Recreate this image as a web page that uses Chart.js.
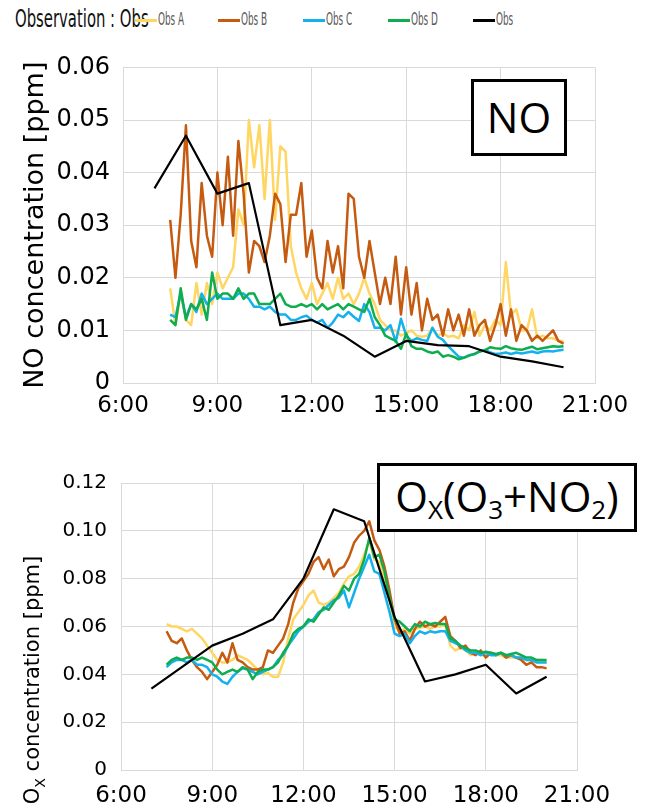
<!DOCTYPE html>
<html>
<head>
<meta charset="utf-8">
<script src="https://cdn.jsdelivr.net/npm/chart.js@4.4.1/dist/chart.umd.min.js"></script>
<style>
  body { margin: 0; background: #fff; }
  #page { position: relative; width: 651px; height: 809px; overflow: hidden; }
  #legend { position: absolute; left: 0; top: 0; width: 651px; height: 40px; }
  #legend .head { position: absolute; left: 15px; top: 4px; font: 25px "DejaVu Sans Condensed", "DejaVu Sans", sans-serif; color: #111;
    transform: scaleX(0.66); transform-origin: left center; white-space: nowrap; }
  #legend .item { position: absolute; top: 9px; white-space: nowrap; }
  #legend .item i { display: inline-block; width: 22px; height: 3.5px; vertical-align: middle; position: relative; top: -1px; }
  #legend .item b { display: inline-block; font: normal 17px "DejaVu Sans Condensed", "DejaVu Sans", sans-serif; color: #595959;
    transform: scaleX(0.58); transform-origin: left center; margin-left: 1px; }
  .box { position: absolute; border: 3px solid #000; background: #fff; font-family: "Open Sans", sans-serif; color: #000; text-align: center; box-sizing: border-box; }
  .box sub { font-size: 0.62em; vertical-align: -0.28em; }
  #noWrap { position: absolute; left: 0; top: 40px; width: 651px; height: 380px; }
  #oxWrap { position: absolute; left: 0; top: 440px; width: 651px; height: 369px; }
</style>
</head>
<body>
<div id="page">
  <div id="legend"><span class="head">Observation : Obs</span></div>
  <div id="noWrap"><canvas id="noChart"></canvas></div>
  <div id="oxWrap"><canvas id="oxChart"></canvas></div>
  <div class="box" style="left:471px; top:79px; width:96px; height:77px; font-size:42px; line-height:70px;">NO</div>
  <div class="box" style="left:377px; top:463px; width:260px; height:69px; font-size:42px; line-height:60px;">O<sub>X</sub>(O<sub>3</sub>+NO<sub>2</sub>)</div>
</div>
<script>
// sampling times of the four sensors (10 min) and of the reference station (hourly)
const sensorTimes = [
  '7:30','7:40','7:50','8:00','8:10','8:20','8:30','8:40','8:50','9:00','9:10','9:20',
  '9:30','9:40','9:50','10:00','10:10','10:20','10:30','10:40','10:50','11:00','11:10','11:20',
  '11:30','11:40','11:50','12:00','12:10','12:20','12:30','12:40','12:50','13:00','13:10','13:20',
  '13:30','13:40','13:50','14:00','14:10','14:20','14:30','14:40','14:50','15:00','15:10','15:20',
  '15:30','15:40','15:50','16:00','16:10','16:20','16:30','16:40','16:50','17:00','17:10','17:20',
  '17:30','17:40','17:50','18:00','18:10','18:20','18:30','18:40','18:50','19:00','19:10','19:20',
  '19:30','19:40','19:50','20:00'];
const obsTimes = ['7:00','8:00','9:00','10:00','11:00','12:00','13:00','14:00','15:00','16:00','17:00','18:00','19:00','20:00'];

const seriesNames = ['Obs A', 'Obs B', 'Obs C', 'Obs D', 'Obs'];
const seriesColors = ['#FFD661', '#C55A11', '#14B1EE', '#10AD4E', '#000000'];

// NO [ppm]
const noObsA = [
  .018,.011,.017,.012,.011,.019,.013,.019,.015,.021,.018,.020,
  .022,.033,.030,.050,.041,.049,.035,.050,.031,.045,.044,.026,
  .021,.018,.016,.019,.015,.017,.019,.016,.020,.016,.017,.015,
  .017,.020,.017,.015,.012,.011,.010,.010,.009,.0095,.010,.009,
  .0088,.009,.0105,.009,.0095,.0088,.009,.0085,.011,.010,.0135,.009,
  .011,.010,.012,.011,.023,.013,.014,.010,.010,.014,.0085,.009,
  .0085,.0085,.008,.008];
const noObsB = [
  .031,.020,.032,.049,.027,.022,.038,.028,.024,.040,.030,.043,
  .028,.046,.036,.021,.027,.026,.023,.028,.036,.034,.023,.032,
  .032,.038,.024,.029,.020,.018,.027,.021,.026,.018,.036,.035,
  .024,.020,.027,.021,.015,.020,.015,.024,.013,.022,.013,.019,
  .010,.016,.012,.013,.009,.014,.010,.013,.009,.014,.009,.011,
  .012,.008,.011,.015,.009,.014,.008,.011,.010,.008,.009,.008,
  .009,.010,.008,.0075];
const noObsC = [
  .013,.0125,.017,.0125,.015,.0135,.017,.015,.016,.017,.016,.016,
  .016,.017,.017,.016,.0145,.0145,.014,.0145,.0135,.013,.013,.012,
  .012,.0125,.0128,.012,.0115,.012,.0105,.0115,.013,.0125,.0135,.0126,
  .0118,.015,.0135,.0105,.0105,.010,.011,.0078,.0122,.009,.008,.0085,
  .0082,.008,.0105,.0088,.0082,.007,.006,.005,.0048,.0053,.0055,.006,
  .0063,.0058,.0055,.0056,.0058,.0055,.0058,.0056,.0058,.006,.0057,.006,
  .0061,.006,.0062,.0063];
const noObsD = [
  .012,.011,.018,.012,.015,.014,.016,.012,.021,.016,.017,.017,
  .016,.018,.016,.017,.017,.015,.015,.015,.016,.017,.015,.0145,
  .0145,.015,.0145,.015,.014,.015,.014,.0145,.015,.014,.015,.0145,
  .014,.0135,.016,.0125,.011,.009,.0085,.008,.0065,.0094,.007,.0065,
  .0065,.006,.0057,.006,.005,.0053,.005,.0045,.0048,.0052,.0055,.006,
  .0062,.0068,.0066,.0065,.007,.0066,.0064,.0063,.0066,.0069,.0064,.0066,
  .0068,.007,.0069,.007];
const noObs = [.037,.047,.036,.038,.011,.012,.009,.005,.008,.0072,.007,.005,.0041,.003];

// Ox [ppm]
const oxObsA = [
  .061,.060,.060,.059,.058,.059,.057,.055,.052,.049,.046,.045,
  .045,.046,.048,.047,.046,.044,.042,.040,.0405,.039,.039,.045,
  .055,.063,.066,.069,.073,.075,.070,.069,.070,.072,.074,.078,
  .081,.082,.085,.090,.096,.088,.087,.080,.072,.060,.058,.059,
  .057,.059,.0595,.060,.059,.060,.060,.061,.052,.050,.051,.050,
  .048,.049,.048,.048,.049,.048,.048,.047,.047,.047,.047,.046,
  .046,.046,.046,.045];
const oxObsB = [
  .058,.054,.053,.055,.050,.046,.043,.041,.038,.041,.044,.049,
  .045,.053,.046,.045,.043,.042,.042,.043,.050,.049,.052,.055,
  .061,.070,.076,.079,.082,.087,.089,.084,.088,.081,.084,.085,
  .089,.095,.098,.100,.104,.096,.092,.085,.075,.063,.057,.058,
  .054,.059,.062,.060,.061,.060,.062,.064,.056,.054,.051,.052,
  .049,.048,.050,.047,.049,.048,.049,.047,.048,.047,.046,.044,
  .045,.043,.043,.0425];
const oxObsC = [
  .043,.045,.046,.046,.045,.046,.044,.044,.043,.040,.039,.037,
  .036,.039,.041,.0425,.042,.041,.040,.041,.042,.043,.046,.048,
  .052,.055,.058,.060,.062,.063,.066,.067,.069,.071,.072,.075,
  .068,.074,.080,.085,.090,.083,.082,.074,.066,.057,.056,.057,
  .053,.056,.058,.057,.058,.0575,.058,.058,.054,.053,.052,.050,
  .049,.049,.048,.049,.048,.048,.049,.048,.048,.047,.047,.046,
  .046,.045,.045,.045];
const oxObsD = [
  .044,.046,.047,.046,.047,.047,.046,.047,.046,.045,.042,.040,
  .041,.042,.041,.043,.042,.038,.041,.042,.042,.043,.045,.049,
  .052,.057,.059,.060,.063,.062,.065,.068,.067,.070,.073,.077,
  .075,.080,.082,.088,.097,.089,.090,.083,.072,.063,.062,.060,
  .058,.061,.060,.062,.061,.0615,.061,.061,.055,.054,.052,.051,
  .050,.050,.049,.0495,.049,.0485,.049,.048,.0485,.049,.048,.047,
  .047,.046,.046,.046];
const oxObs = [.034,.043,.052,.057,.063,.080,.109,.104,.064,.037,.040,.044,.032,.039];

function toHours(s) {
  var p = s.split(':');
  return +p[0] + (+p[1]) / 60;
}
function pts(times, vals) {
  return vals.map(function (v, i) { return { x: toHours(times[i]), y: v }; });
}

// html legend
var legendPos = [135, 218, 303, 388, 473];
var lg = document.getElementById('legend');
for (var i = 0; i < seriesNames.length; i++) {
  var it = document.createElement('span');
  it.className = 'item';
  it.style.left = legendPos[i] + 'px';
  it.innerHTML = '<i style="background:' + seriesColors[i] + '"></i><b>' + seriesNames[i] + '</b>';
  lg.appendChild(it);
}

function makeSets(a, b, c, d, obs) {
  var sets = [a, b, c, d];
  var out = sets.map(function (s, i) {
    return {
      label: seriesNames[i], data: pts(sensorTimes, s),
      borderColor: seriesColors[i], borderWidth: 2.5, order: 4 - i
    };
  });
  out.push({ label: seriesNames[4], data: pts(obsTimes, obs), borderColor: seriesColors[4], borderWidth: 2.2, order: 0 });
  return out;
}

const gridColor = '#D9D9D9';
const tickFont = 'DejaVu Sans';

function baseOptions(o) {
  return {
    responsive: true,
    maintainAspectRatio: false,
    animation: false,
    devicePixelRatio: 1,
    layout: { padding: o.padding },
    elements: { point: { radius: 0 }, line: { tension: 0, borderJoinStyle: 'round', fill: false } },
    plugins: { legend: { display: false }, tooltip: { enabled: false } },
    scales: {
      x: {
        type: 'linear', min: 6, max: 21,
        ticks: { stepSize: 3, color: '#000', font: { family: tickFont, size: o.xFont }, padding: o.xPad, maxRotation: 0,
          callback: function (v) { return v + ':00'; } },
        grid: { color: gridColor, drawTicks: false },
        border: { color: gridColor },
        afterFit: function (s) { s.height = o.xHeight; }
      },
      y: {
        min: 0, max: o.yMax,
        ticks: { stepSize: o.yStep, color: '#000', font: { family: tickFont, size: o.yFont }, padding: o.yPad,
          callback: function (v) { return v === 0 ? '0' : v.toFixed(2); } },
        grid: { color: gridColor, drawTicks: false },
        border: { color: gridColor },
        title: o.yTitle,
        afterFit: function (s) { s.width = o.yWidth; }
      }
    }
  };
}

new Chart(document.getElementById('noChart'), {
  type: 'line',
  data: { datasets: makeSets(noObsA, noObsB, noObsC, noObsD, noObs) },
  options: baseOptions({
    padding: { top: 26, right: 56, bottom: 0, left: 0 },
    xFont: 23, xPad: 9, xHeight: 37,
    yMax: 0.06, yStep: 0.01, yFont: 24, yPad: 13, yWidth: 123,
    yTitle: { display: true, text: 'NO concentration [ppm]', color: '#000',
      font: { family: tickFont, size: 27 }, padding: { top: 20, bottom: 0 } }
  })
});

// y title with subscript X for the Ox chart
const oxTitle = {
  id: 'oxTitle',
  afterDraw: function (chart) {
    var ctx = chart.ctx;
    var big = 'normal 21px DejaVu Sans', small = 'normal 14px DejaVu Sans';
    ctx.save();
    ctx.font = big;
    var wO = ctx.measureText('O').width;
    var wR = ctx.measureText(' concentration [ppm]').width;
    ctx.font = small;
    var wX = ctx.measureText('X').width;
    var total = wO + wX + wR;
    ctx.translate(34, 240);
    ctx.rotate(-Math.PI / 2);
    ctx.fillStyle = '#000';
    ctx.textBaseline = 'middle';
    ctx.textAlign = 'left';
    var x0 = -total / 2;
    ctx.font = big;
    ctx.fillText('O', x0, 0);
    ctx.font = small;
    ctx.fillText('X', x0 + wO, 7);
    ctx.font = big;
    ctx.fillText(' concentration [ppm]', x0 + wO + wX, 0);
    ctx.restore();
  }
};

new Chart(document.getElementById('oxChart'), {
  type: 'line',
  data: { datasets: makeSets(oxObsA, oxObsB, oxObsC, oxObsD, oxObs) },
  options: baseOptions({
    padding: { top: 43, right: 74, bottom: 0, left: 0 },
    xFont: 23, xPad: 12, xHeight: 39,
    yMax: 0.12, yStep: 0.02, yFont: 20, yPad: 14, yWidth: 121,
    yTitle: { display: false }
  }),
  plugins: [oxTitle]
});
</script>
</body>
</html>
